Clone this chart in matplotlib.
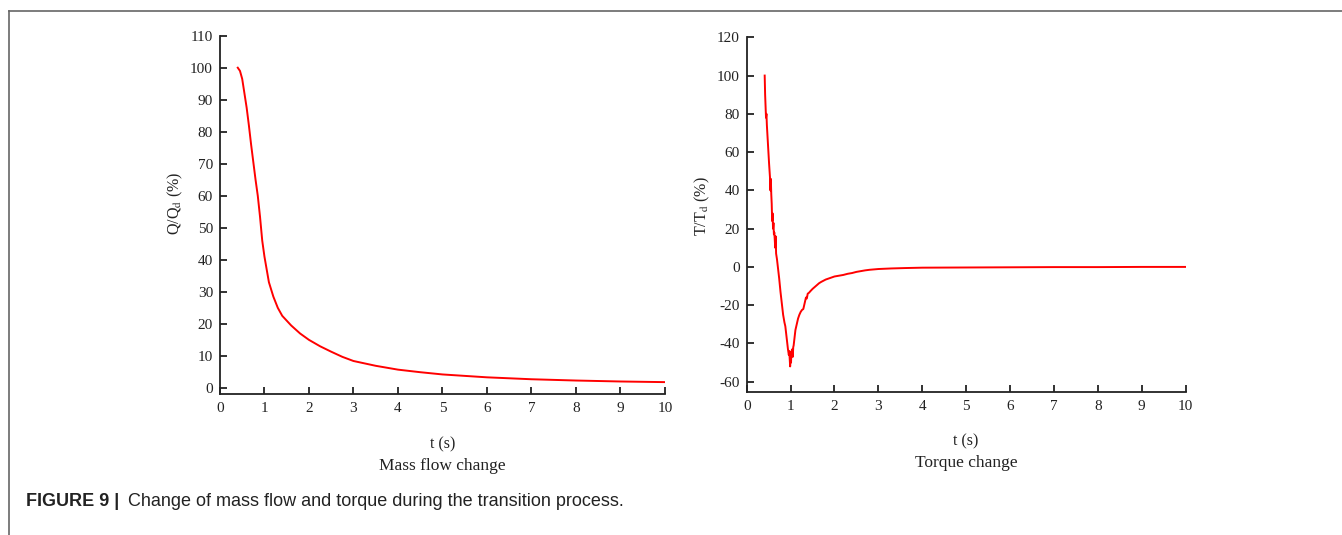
import matplotlib
matplotlib.use("Agg")
import matplotlib.pyplot as plt
from matplotlib.lines import Line2D

plt.rcParams["font.family"] = "Liberation Serif"
plt.rcParams["mathtext.fontset"] = "stix"
plt.rcParams["axes.unicode_minus"] = False

# mass flow (left panel)
t_flow = [0.40, 0.45, 0.50, 0.55, 0.60, 0.65, 0.70, 0.75, 0.80, 0.85,
          0.90, 0.95, 1.00, 1.05, 1.10, 1.20, 1.30, 1.40, 1.50, 1.60,
          1.80, 2.00, 2.25, 2.50, 2.75, 3.00, 3.50, 4.00, 4.50, 5.00,
          6.00, 7.00, 8.00, 9.00, 10.0]
q_flow = [100, 99, 96.5, 92, 87.5, 82, 76, 70.5, 65, 60,
          53.5, 46, 41, 37, 33, 28.5, 25, 22.5, 21, 19.5,
          17, 15, 13, 11.3, 9.7, 8.4, 6.9, 5.7, 4.9, 4.2,
          3.3, 2.7, 2.3, 2.0, 1.8]

# torque (right panel)
t_torque = [0.41, 0.42, 0.44, 0.45, 0.46, 0.47, 0.49, 0.51, 0.53, 0.54,
            0.55, 0.56, 0.57, 0.58, 0.59, 0.60, 0.61, 0.62, 0.63, 0.64,
            0.65, 0.66, 0.67, 0.69, 0.71, 0.74, 0.77, 0.80, 0.83, 0.86,
            0.88, 0.90, 0.92, 0.94, 0.96, 0.97, 0.98, 0.99, 1.00, 1.01,
            1.02, 1.03, 1.04, 1.05, 1.06, 1.07, 1.09, 1.11, 1.14, 1.17,
            1.20, 1.23, 1.26, 1.29, 1.32, 1.35, 1.37, 1.39, 1.42, 1.45,
            1.50, 1.55, 1.60, 1.65, 1.70, 1.75, 1.80, 1.90, 2.00, 2.10,
            2.20, 2.30, 2.40, 2.50, 2.60, 2.70, 2.80, 3.00, 3.30, 3.60,
            4.00, 5.00, 6.00, 7.00, 8.00, 9.00, 10.0]
tq = [100, 90, 78, 80, 74, 70, 62, 54, 47, 40,
      46, 38, 33, 24, 28, 20, 23, 17, 18, 14,
      10, 16, 7, 4, 0, -6, -13, -19, -25, -29,
      -31, -35, -39, -43, -46, -44, -48, -52, -47, -50,
      -44, -46, -43, -47, -42, -41, -37, -33, -30, -27,
      -25, -23.5, -22.5, -22, -19, -16, -16.5, -14, -13.5, -12.7,
      -11.5, -10.5, -9.5, -8.5, -7.8, -7.2, -6.6, -5.8, -5.0, -4.6,
      -4.2, -3.6, -3.2, -2.6, -2.2, -1.8, -1.5, -1.1, -0.8, -0.6,
      -0.4, -0.3, -0.2, -0.1, -0.1, 0, 0]

xticks = list(range(0, 11))
yticks_flow = list(range(0, 111, 10))
yticks_torque = list(range(-60, 121, 20))

fig = plt.figure(figsize=(13.42, 5.35), dpi=100)
ax1 = fig.add_axes([0.1639, 0.2636, 0.3316, 0.6697])
ax2 = fig.add_axes([0.5564, 0.2679, 0.3271, 0.6624])

ink = "#222222"


def style(ax):
    for s in ["top", "right"]:
        ax.spines[s].set_visible(False)
    for s in ["left", "bottom"]:
        ax.spines[s].set_linewidth(1.3)
        ax.spines[s].set_color(ink)
    ax.tick_params(direction="in", length=5, width=1.3, color=ink,
                   labelsize=11, labelcolor=ink)
    ax.tick_params(axis="x", pad=6)
    ax.tick_params(axis="y", pad=5)
    ax.set_xlim(0, 10)
    ax.set_xticks(xticks)


ax1.plot(t_flow, q_flow, color="red", lw=1.4)
style(ax1)
ax1.set_ylim(-1.9, 110)
ax1.set_yticks(yticks_flow)
ax1.set_xlabel("t (s)", fontsize=11.5, labelpad=15, color=ink)
ax1.set_ylabel("Q/Q$_\\mathrm{d}$ (%)", fontsize=11.5, color=ink)
ax1.yaxis.set_label_coords(-0.078, 0.533)
ax1.text(0.5, -0.2, "Mass flow change", transform=ax1.transAxes,
         ha="center", va="center", fontsize=12.5, color=ink)

ax2.plot(t_torque, tq, color="red", lw=1.4)
style(ax2)
ax2.set_ylim(-65.2, 120)
ax2.set_yticks(yticks_torque)
ax2.set_xlabel("t (s)", fontsize=11.5, labelpad=15, color=ink)
ax2.set_ylabel("T/T$_\\mathrm{d}$ (%)", fontsize=11.5, color=ink)
ax2.yaxis.set_label_coords(-0.078, 0.524)
ax2.text(0.5, -0.2, "Torque change", transform=ax2.transAxes,
         ha="center", va="center", fontsize=12.5, color=ink)

# page frame (top and left edge)
fig.add_artist(Line2D([0.0067, 1.0], [0.98, 0.98], transform=fig.transFigure,
                      color="#666666", lw=1.2))
fig.add_artist(Line2D([0.0067, 0.0067], [0.0, 0.98], transform=fig.transFigure,
                      color="#666666", lw=1.2))

fig.text(0.0194, 0.062, "FIGURE 9 |", fontsize=13, fontweight="bold",
         family="Liberation Sans", va="center", color=ink)
fig.text(0.0954, 0.062, "Change of mass flow and torque during the transition process.",
         fontsize=13, family="Liberation Sans", va="center", color=ink)

fig.savefig("out.png", dpi=100)
